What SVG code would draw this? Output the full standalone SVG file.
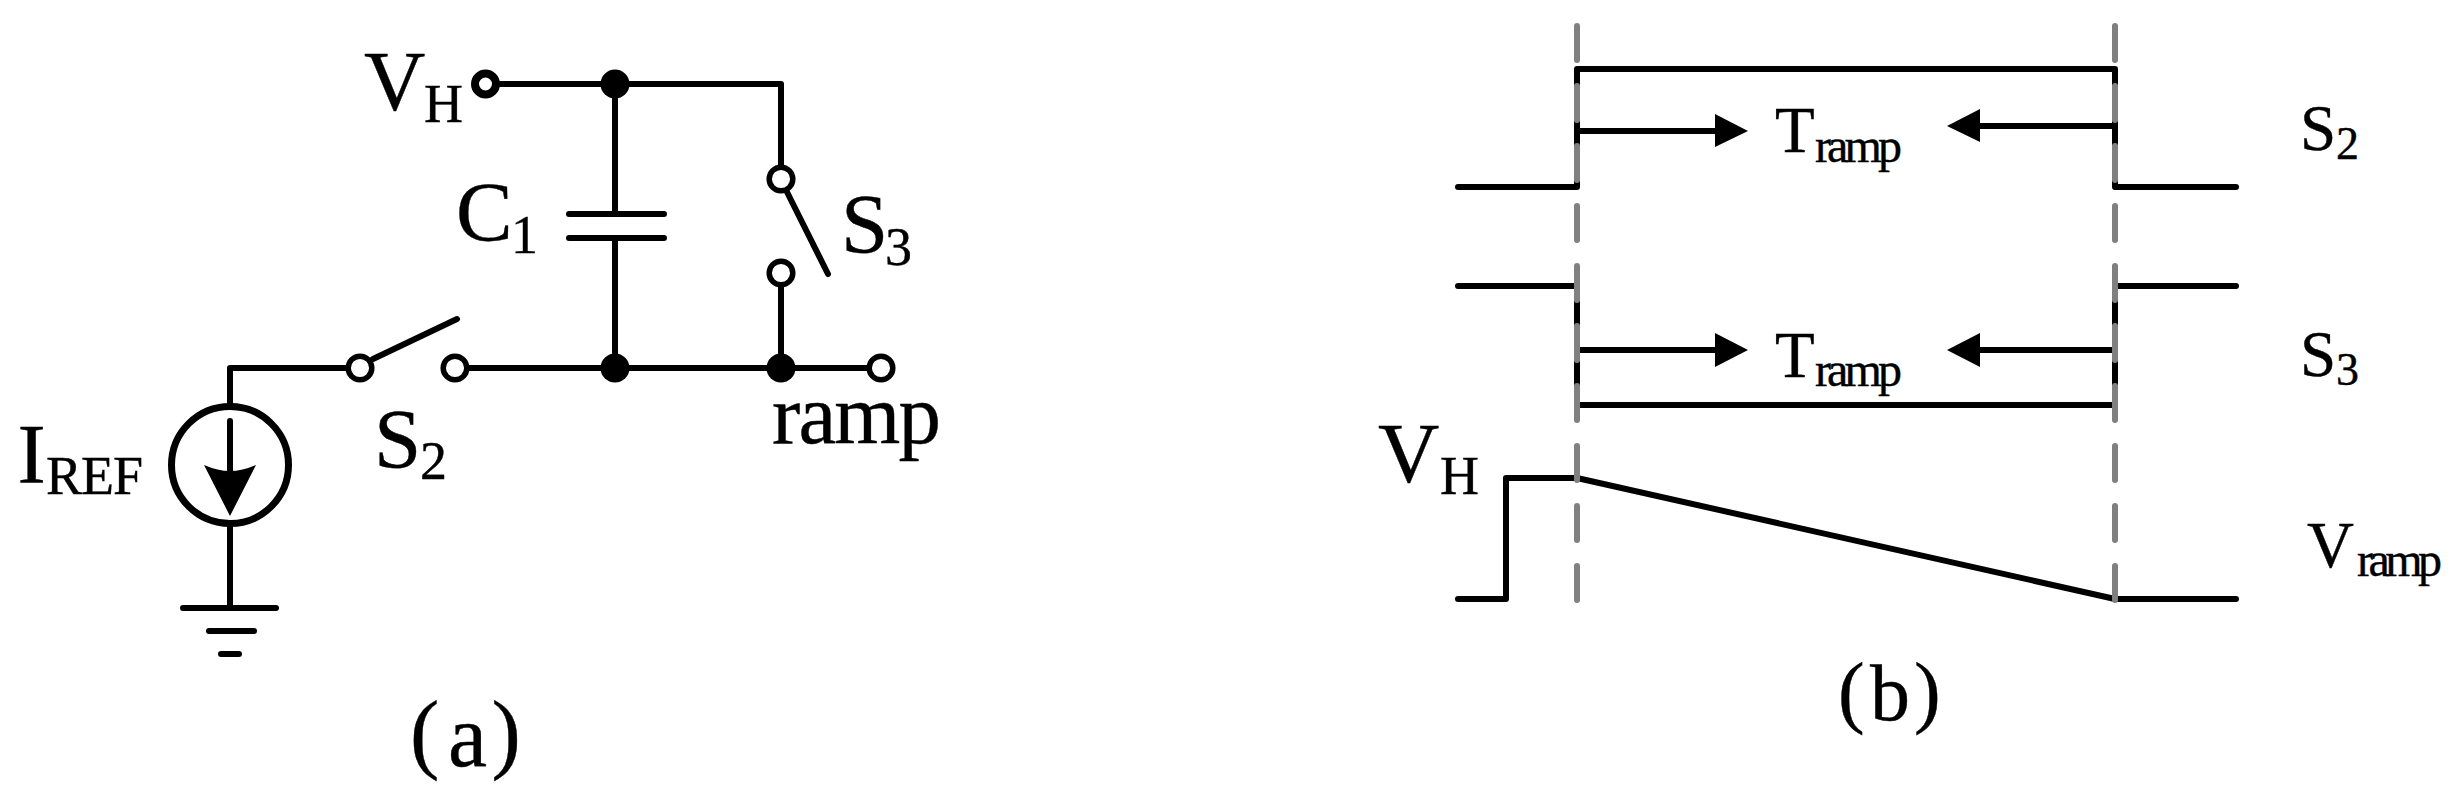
<svg xmlns="http://www.w3.org/2000/svg" width="2460" height="803" viewBox="0 0 2460 803">
<style>
text{font-family:"Liberation Serif","Times New Roman",serif;fill:#000;stroke:#000;stroke-width:.4}
.w{fill:none;stroke:#000;stroke-width:6;stroke-linecap:round;stroke-linejoin:round}
.t{fill:#fff;stroke:#000;stroke-width:5.500}
.d{fill:#000}
.g{fill:none;stroke:#808080;stroke-width:6;stroke-dasharray:34 26;stroke-linecap:round}
.b{font-size:85px}.s{font-size:54px}.m{font-size:65px}.n{font-size:46px}.r{font-size:48px}
</style>
<defs>
<circle id="term" r="11.800" class="t"/>
<circle id="dot" r="14.500" class="d"/>
</defs>
<g id="connectors">
<path class="w" d="M499 84H781V166M615 84V214M615 238V368M468 368H868M781 285V368M230 368H348M230 368V404M230 526V608"/>
<path class="w" d="M373 359L457 319M787 192L828 274"/>
<path class="w" d="M1458 187H1577V69H2115V187H2236"/>
<path class="w" d="M1458 286H1577V405H2115V286H2236"/>
<path class="w" d="M1458 599H1506V478H1577L2115 599H2236"/>
<path class="w" d="M1577 131H1720M2115 126H1975M1577 350H1720M2115 350H1975"/>
</g>
<g id="arrowheads">
<path class="d" d="M1748 131L1715 114V147Z"/>
<path class="d" d="M1947 126L1980 109V142Z"/>
<path class="d" d="M1748 350L1715 333V367Z"/>
<path class="d" d="M1947 350L1980 333V367Z"/>
</g>
<g id="guides">
<path class="g" d="M1577 26V603"/>
<path class="g" d="M2115 26V603"/>
</g>
<g id="node-vh-terminal"><circle cx="485.500" cy="84" r="10.500" fill="#fff" stroke="#000" stroke-width="8"/></g>
<g id="node-top-junction"><use href="#dot" x="615" y="84"/></g>
<g id="node-c1"><path class="w" d="M569 214H664M569 238H664"/></g>
<g id="node-s3"><use href="#term" x="781" y="179"/><use href="#term" x="781" y="273"/></g>
<g id="node-s2"><use href="#term" x="360" y="368"/><use href="#term" x="455" y="368"/></g>
<g id="node-mid-junction"><use href="#dot" x="615" y="368"/></g>
<g id="node-ramp-junction"><use href="#dot" x="781" y="368"/></g>
<g id="node-ramp-terminal"><use href="#term" x="881" y="368"/></g>
<g id="node-iref">
<circle cx="230" cy="465" r="58.500" fill="none" stroke="#000" stroke-width="7"/>
<path class="w" d="M230 421V475"/>
<path class="d" d="M230 516L204 465Q218 471 230 471Q242 471 256 465Z"/>
</g>
<g id="node-ground"><path class="w" d="M183 608H276M209 631H254M221 654H239"/></g>
<g id="labels">
<text class="b" x="364" y="110">V</text><text class="s" x="424" y="121.500">H</text>
<text class="b" x="456" y="241">C</text><text class="s" x="511" y="252.500">1</text>
<text class="b" x="841" y="253">S</text><text class="s" x="885" y="264.500">3</text>
<text class="b" x="374" y="468">S</text><text class="s" x="420" y="479">2</text>
<text class="b" x="772" y="443" textLength="169">ramp</text>
<text class="b" x="17.500" y="483">I</text><text class="s" x="46" y="494" textLength="97">REF</text>
<text style="font-size:88px" x="410 448 491.500" y="762 766 762">(a)</text>
<text class="m" x="1775" y="151.500">T</text><text class="r" x="1815" y="162" textLength="87">ramp</text>
<text class="m" x="1775" y="377">T</text><text class="r" x="1815" y="386" textLength="87">ramp</text>
<text class="m" x="2300" y="150">S</text><text class="n" x="2336" y="159">2</text>
<text class="m" x="2300" y="376">S</text><text class="n" x="2336" y="385">3</text>
<text class="b" x="1378" y="482">V</text><text class="s" x="1440" y="494">H</text>
<text class="m" x="2307" y="567">V</text><text class="r" x="2357" y="576" textLength="85">ramp</text>
<text style="font-size:80px" x="1838 1870 1914" y="718 720 718">(b)</text>
</g>
</svg>
